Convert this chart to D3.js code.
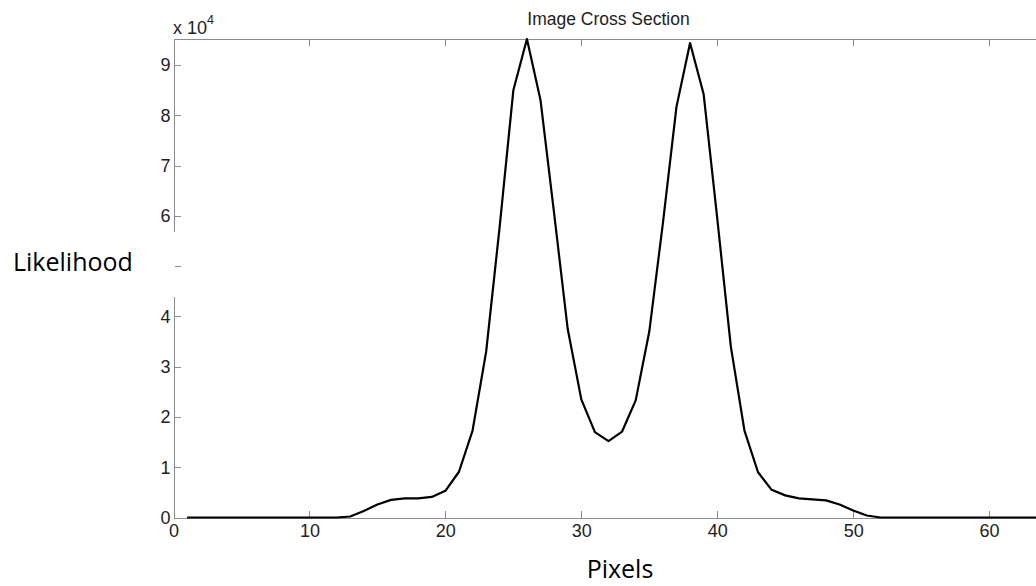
<html>
    <head>
        <script src="https://d3js.org/d3.v7.min.js"></script>
        <style>
            body {
                margin: 0;
                background: white;
            }

            .axis path, .axis line {
                stroke: #8c8c8c;
                stroke-width: 1px;
                shape-rendering: crispEdges;
            }

            .axis text {
                font-family: "Liberation Sans", Arial, sans-serif;
                font-size: 18px;
                fill: #222;
            }

            .profile {
                fill: none;
                stroke: black;
                stroke-width: 2.2px;
                stroke-linejoin: round;
            }

            .title, .exponent {
                font-family: "Liberation Sans", Arial, sans-serif;
                fill: #222;
            }

            .label {
                font-family: "Open Sans", sans-serif;
                font-size: 25px;
                fill: black;
            }
        </style>
    </head>

    <body>
        <svg id="crossSection" width="1036" height="586"></svg>

        <script>
            // pixel index along the cross section
            const pixels = d3.range(1, 65);

            // likelihood, one value per pixel
            const likelihood = [
                0, 0, 0, 0, 0, 0, 0, 0, 0, 0, 0, 0,
                200, 1300, 2600, 3500, 3800, 3800, 4100, 5300, 9100, 17300,
                33000, 58000, 85000, 95200, 83000, 60500, 37500, 23500, 17000, 15200,
                17100, 23300, 37000, 58500, 81700, 94400, 84200, 59500, 34000, 17300,
                9000, 5500, 4400, 3800, 3600, 3400, 2600, 1400, 400,
                0, 0, 0, 0, 0, 0, 0, 0, 0, 0, 0, 0, 0
            ];

            const xTicks = [0, 10, 20, 30, 40, 50, 60];
            const yTicks = [0, 10000, 20000, 30000, 40000, 50000, 60000, 70000, 80000, 90000];

            const svg = d3.select("#crossSection");
            const margin = {top: 39, left: 173.5, bottom: 517.5, right: 1043.5};

            const x = d3.scaleLinear().domain([0, 64]).range([margin.left, margin.right]);
            const y = d3.scaleLinear().domain([0, 95200]).range([margin.bottom, margin.top]);

            // box: bottom + left with labels, top + right ticks only
            svg.append("g")
               .attr("class", "axis")
               .attr("transform", "translate(0," + margin.bottom + ")")
               .call(d3.axisBottom(x).tickValues(xTicks).tickSizeInner(-7).tickSizeOuter(0).tickPadding(7));

            svg.append("g")
               .attr("class", "axis")
               .attr("transform", "translate(0," + margin.top + ")")
               .call(d3.axisTop(x).tickValues(xTicks).tickSizeInner(-7).tickSizeOuter(0).tickFormat(""));

            svg.append("g")
               .attr("class", "axis")
               .attr("transform", "translate(" + margin.left + ",0)")
               .call(d3.axisLeft(y).tickValues(yTicks).tickSizeInner(-7).tickSizeOuter(0).tickPadding(3)
                       .tickFormat(d => d / 10000));

            svg.append("g")
               .attr("class", "axis")
               .attr("transform", "translate(" + margin.right + ",0)")
               .call(d3.axisRight(y).tickValues(yTicks).tickSizeInner(-7).tickSizeOuter(0).tickFormat(""));

            const line = d3.line()
                .x((d, i) => x(pixels[i]))
                .y(d => y(d));

            svg.append("path")
               .datum(likelihood)
               .attr("class", "profile")
               .attr("d", line);

            // exponent marker
            const expo = svg.append("text")
               .attr("class", "exponent")
               .attr("x", 173)
               .attr("y", 34)
               .style("font-size", "18px")
               .text("x 10");
            expo.append("tspan")
                .attr("dy", -10)
                .style("font-size", "12.5px")
                .text("4");

            svg.append("text")
               .attr("class", "title")
               .attr("x", (margin.left + margin.right) / 2)
               .attr("y", 25)
               .attr("text-anchor", "middle")
               .style("font-size", "17.5px")
               .text("Image Cross Section");

            // the y label sits on a white patch covering part of the axis
            svg.append("rect")
               .attr("x", 0)
               .attr("y", 232)
               .attr("width", 175)
               .attr("height", 65)
               .style("fill", "white");

            svg.append("text")
               .attr("class", "label")
               .attr("x", 13)
               .attr("y", 271)
               .text("Likelihood");

            svg.append("text")
               .attr("class", "label")
               .attr("x", 620)
               .attr("y", 578)
               .attr("text-anchor", "middle")
               .text("Pixels");
        </script>
    </body>
</html>
